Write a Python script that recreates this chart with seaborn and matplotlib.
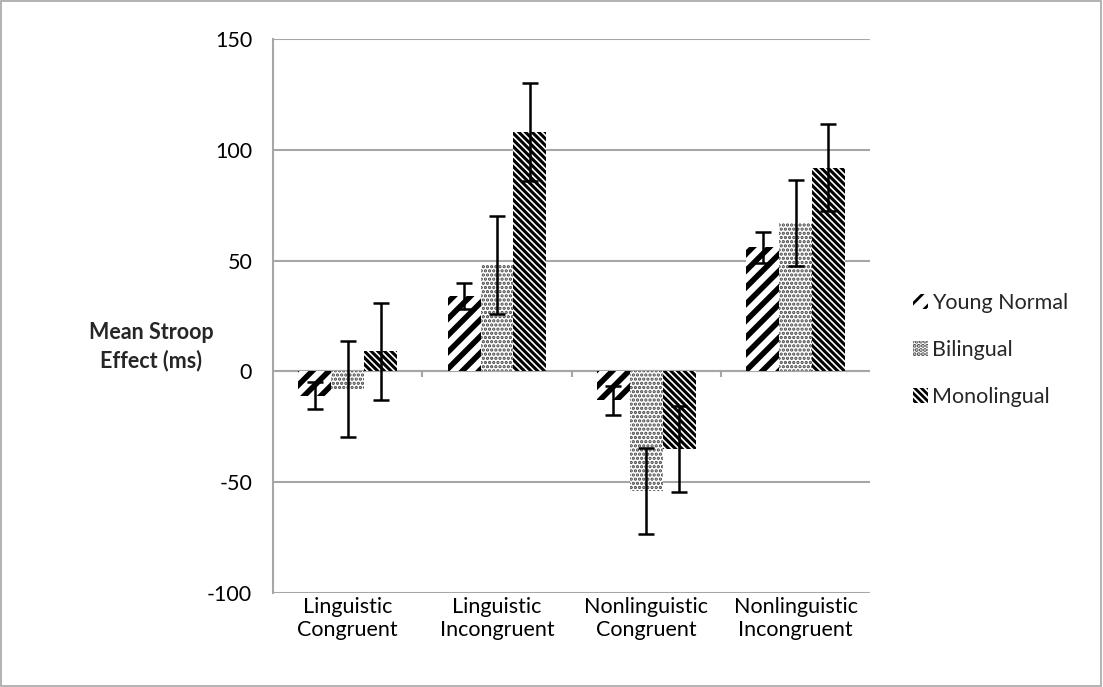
import matplotlib
matplotlib.use("Agg")
import matplotlib.pyplot as plt
import seaborn as sns
import pandas as pd
import numpy as np
from matplotlib.patches import Patch, Rectangle

# data
conditions = ["Linguistic\nCongruent", "Linguistic\nIncongruent",
              "Nonlinguistic\nCongruent", "Nonlinguistic\nIncongruent"]
groups = ["Young Normal", "Bilingual", "Monolingual"]
young_normal = [-11, 34, -13, 56]
bilingual = [-8, 48, -54, 67]
monolingual = [9, 108, -35, 92]
young_normal_err = [6, 6, 6.5, 7]
bilingual_err = [21.5, 22, 19.5, 19.5]
monolingual_err = [22, 22, 19.5, 19.5]
y_ticks = [-100, -50, 0, 50, 100, 150]

sns.set_theme(style="white")
plt.rcParams['font.family'] = ['Lato', 'DejaVu Sans']
plt.rcParams['axes.unicode_minus'] = False
plt.rcParams['hatch.linewidth'] = 2.0

values = [young_normal, bilingual, monolingual]
errors = [young_normal_err, bilingual_err, monolingual_err]
rows = []
for g, vals in zip(groups, values):
    for c, v in zip(conditions, vals):
        rows.append({"condition": c, "group": g, "value": v})
df = pd.DataFrame(rows)

fig = plt.figure(figsize=(11.03, 6.87), dpi=100)
ax = fig.add_axes([0.2475, 0.137, 0.5415, 0.806])

sns.barplot(data=df, x="condition", y="value", hue="group", order=conditions,
            hue_order=groups, palette=["white"] * 3, width=0.66,
            errorbar=None, legend=False, ax=ax, zorder=3)

hatches = ["//", "....", "\\\\\\\\\\"]
hatch_colors = ["black", "#444444", "black"]
hatch_lw = [4.0, 1.6, 2.2]
for cont, h, hc, lw, errs in zip(ax.containers, hatches, hatch_colors, hatch_lw, errors):
    xs = []
    ys = []
    for bar in cont:
        bar.set_hatch(h)
        bar.set_edgecolor(hc)
        bar.set_linewidth(0)
        bar.set_facecolor("white")
        if hasattr(bar, "set_hatch_linewidth"):
            bar.set_hatch_linewidth(lw)
        xs.append(bar.get_x() + bar.get_width() / 2)
        ys.append(bar.get_y() + bar.get_height())
    ax.errorbar(xs, ys, yerr=errs, fmt="none", ecolor="black", elinewidth=1.8,
                capsize=6, capthick=1.8, zorder=5)

ax.set_ylim(-100, 150)
ax.set_xlim(-0.5, 3.5)
ax.set_yticks(y_ticks)
ax.yaxis.grid(True, color="#a6a6a6", linewidth=1.5, zorder=0)
ax.set_axisbelow(True)
for s in ["top", "right", "bottom"]:
    ax.spines[s].set_visible(False)
ax.spines["left"].set_color("#a6a6a6")
ax.spines["left"].set_linewidth(1.5)
ax.axhline(0, color="#a6a6a6", linewidth=1.5, zorder=1)
ax.vlines(np.arange(0.5, 3.5, 1.0), -2.7, 0, color="#a6a6a6", linewidth=1.5, zorder=1)
ax.tick_params(axis="y", length=0, pad=15, labelsize=15.5, colors="black")
ax.tick_params(axis="x", length=0, pad=3, labelsize=15.5, colors="black")
ax.set_xlabel("")
ax.set_ylabel("")

fig.text(0.137, 0.495, "Mean Stroop\nEffect (ms)", ha="center", va="center",
         fontsize=15.5, fontweight="bold", linespacing=1.4)

handles = [Patch(facecolor="white", edgecolor=hc, hatch=h, linewidth=0)
           for h, hc in zip(hatches, hatch_colors)]
fig.legend(handles, groups, loc="center left", bbox_to_anchor=(0.81, 0.49),
           frameon=False, fontsize=15.5, handlelength=0.7, handleheight=0.7,
           handletextpad=0.2, labelspacing=1.25)

fig.patches.append(Rectangle((0.001, 0.001), 0.997, 0.997, transform=fig.transFigure,
                             fill=False, edgecolor="#a6a6a6", linewidth=1.2))

fig.savefig("out.png", dpi=100)
